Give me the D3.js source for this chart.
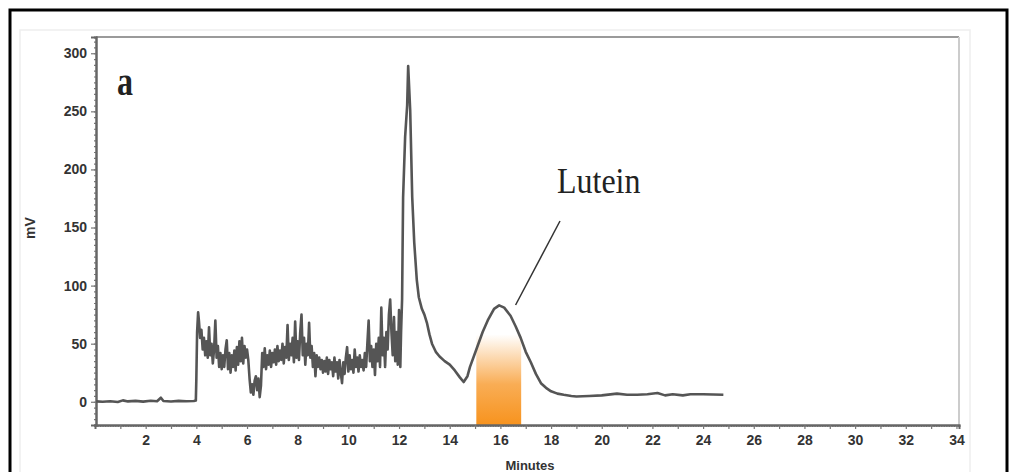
<!DOCTYPE html>
<html>
<head>
<meta charset="utf-8">
<script src="https://cdn.jsdelivr.net/npm/d3@7"></script>
<style>
  body { margin: 0; background: #fff; }
  .tick-label { font-family: 'Liberation Sans', Arial, sans-serif; font-weight: bold; font-size: 14px; fill: #333; }
</style>
</head>
<body>
<div id="chart"></div>
<script>
// minutes / mV pairs
var baselinePts = [[0.05, 0.3], [0.3, 0], [0.6, 0.4], [0.9, -0.2], [1.1, 1.2], [1.3, 0.3], [1.6, 0.8], [1.9, 0.1], [2.2, 0.9], [2.45, 0.4], [2.6, 3.5], [2.7, 0.6], [3.0, 0.2], [3.3, 0.8], [3.6, 0.4], [3.9, 0.6], [3.98, 1]]

var noisePts = [
  [4.0, 20], [4.03, 60], [4.07, 77], [4.1, 70], [4.15, 55], [4.2, 62], [4.25, 45], [4.3, 55], [4.35, 40], [4.4, 52],
  [4.45, 38], [4.5, 64], [4.55, 40], [4.6, 50], [4.65, 33], [4.7, 45], [4.75, 70], [4.8, 38], [4.85, 48], [4.9, 30],
  [4.95, 42], [5.0, 28], [5.05, 40], [5.1, 30], [5.15, 45], [5.2, 53], [5.25, 28], [5.3, 42], [5.35, 25], [5.4, 40],
  [5.45, 30], [5.5, 44], [5.55, 27], [5.6, 47], [5.65, 32], [5.7, 52], [5.75, 35], [5.8, 55], [5.85, 33], [5.9, 48],
  [5.95, 38], [6.0, 45], [6.05, 36], [6.1, 20], [6.15, 8], [6.2, 15], [6.25, 6], [6.3, 18], [6.35, 22], [6.4, 10],
  [6.45, 20], [6.5, 4], [6.55, 14], [6.6, 42], [6.65, 30], [6.7, 46], [6.75, 28], [6.8, 40], [6.85, 32], [6.9, 44],
  [6.95, 30], [7.0, 42], [7.05, 34], [7.1, 45], [7.15, 32], [7.2, 48], [7.25, 35], [7.3, 44], [7.35, 36], [7.4, 50],
  [7.45, 33], [7.5, 47], [7.55, 38], [7.6, 66], [7.65, 36], [7.7, 50], [7.75, 40], [7.8, 55], [7.85, 34], [7.9, 69],
  [7.95, 38], [8.0, 52], [8.05, 36], [8.1, 60], [8.15, 75], [8.2, 40], [8.25, 55], [8.3, 32], [8.35, 50], [8.4, 40],
  [8.45, 68], [8.5, 38], [8.55, 48], [8.6, 30], [8.65, 42], [8.7, 22], [8.75, 40], [8.8, 30], [8.85, 38], [8.9, 28],
  [8.95, 36], [9.0, 25], [9.05, 35], [9.1, 26], [9.15, 38], [9.2, 24], [9.25, 36], [9.3, 28], [9.35, 34], [9.4, 22],
  [9.45, 38], [9.5, 26], [9.55, 34], [9.6, 20], [9.65, 36], [9.7, 25], [9.75, 16], [9.8, 34], [9.85, 24], [9.9, 38],
  [9.95, 47], [10.0, 26], [10.05, 40], [10.1, 28], [10.15, 36], [10.2, 25], [10.25, 45], [10.3, 30], [10.35, 38], [10.4, 26],
  [10.45, 40], [10.5, 30], [10.55, 36], [10.6, 27], [10.65, 42], [10.7, 30], [10.75, 50], [10.8, 70], [10.85, 35], [10.9, 48],
  [10.95, 30], [11.0, 45], [11.05, 23], [11.1, 50], [11.15, 35], [11.2, 55], [11.25, 30], [11.3, 81], [11.35, 40], [11.4, 55],
  [11.45, 30], [11.5, 60], [11.55, 45], [11.6, 75], [11.65, 88], [11.7, 60], [11.75, 40], [11.8, 73], [11.85, 35], [11.9, 60],
  [11.95, 32], [12.0, 79], [12.05, 30], [12.08, 60]
]

var mainPeakPts = [[12.12, 88], [12.16, 176], [12.24, 228], [12.32, 255], [12.36, 289], [12.4, 270], [12.44, 251], [12.52, 176], [12.6, 137], [12.7, 105], [12.78, 90], [12.9, 80], [13.0, 75], [13.1, 68], [13.2, 58], [13.3, 50], [13.45, 43], [13.6, 39], [13.8, 35], [14.0, 32], [14.2, 27], [14.4, 21], [14.55, 17], [14.7, 22]]

var luteinPts = [[14.8, 30], [15.05, 45], [15.3, 60], [15.5, 70], [15.75, 80], [15.95, 83], [16.15, 81], [16.4, 74], [16.6, 65], [16.8, 55], [17.0, 43], [17.2, 34], [17.4, 24], [17.6, 16], [17.8, 12], [18.0, 9], [18.25, 7], [18.5, 6], [18.8, 5], [19.0, 4.5], [19.5, 5], [20.0, 5.5], [20.6, 7], [21.0, 6], [21.4, 6], [21.8, 6.5], [22.2, 7.5], [22.5, 5.5], [22.8, 6.5], [23.2, 5.5], [23.5, 6.5], [24.0, 6.5], [24.8, 6]]

var luteinBand = [15.05, 16.82]
var xTickLabels = [2, 4, 6, 8, 10, 12, 14, 16, 18, 20, 22, 24, 26, 28, 30, 32, 34]
var yTickLabels = [0, 50, 100, 150, 200, 250, 300]

var trace = baselinePts.concat(noisePts, mainPeakPts, luteinPts)

var svg = d3.select('#chart')
  .append('svg')
  .attr('width', 1011)
  .attr('height', 472)

const xPositionScale = d3.scaleLinear().domain([0, 34.1]).range([95, 959])
const yPositionScale = d3.scaleLinear().domain([-20, 314]).range([425, 37])

// outer frame and faint panel
svg.append('rect')
  .attr('x', 10).attr('y', 10)
  .attr('width', 997).attr('height', 500)
  .attr('fill', 'none').attr('stroke', '#000').attr('stroke-width', 3)

svg.append('rect')
  .attr('x', 20).attr('y', 30)
  .attr('width', 950).attr('height', 450)
  .attr('fill', 'none').attr('stroke', '#eeeeee').attr('stroke-width', 1.5)

// gradient for lutein band
var grad = svg.append('defs').append('linearGradient')
  .attr('id', 'lutein-grad')
  .attr('x1', 0).attr('y1', 1).attr('x2', 0).attr('y2', 0)
grad.append('stop').attr('offset', '0%').attr('stop-color', '#f7931e')
grad.append('stop').attr('offset', '45%').attr('stop-color', '#f9ad55')
grad.append('stop').attr('offset', '100%').attr('stop-color', '#ffffff')

svg.append('rect')
  .attr('x', xPositionScale(luteinBand[0]))
  .attr('y', yPositionScale(58))
  .attr('width', xPositionScale(luteinBand[1]) - xPositionScale(luteinBand[0]))
  .attr('height', yPositionScale(-20) - yPositionScale(58))
  .attr('fill', 'url(#lutein-grad)')

// plot box top/right
svg.append('line')
  .attr('x1', 96).attr('x2', 959).attr('y1', 37).attr('y2', 37)
  .attr('stroke', '#9a9a9a').attr('stroke-width', 2)
svg.append('line')
  .attr('x1', 959).attr('x2', 959).attr('y1', 37).attr('y2', 425)
  .attr('stroke', '#cccccc').attr('stroke-width', 2)

// x axis
var xMinor = d3.range(0.1, 34.05, 0.1)
var xAxisMinor = d3.axisBottom(xPositionScale).tickValues(xMinor).tickSize(2).tickFormat('')
svg.append('g')
  .attr('class', 'axis x-minor')
  .attr('transform', 'translate(0,' + 425 + ')')
  .call(xAxisMinor)

var xAxis = d3.axisBottom(xPositionScale).tickValues(d3.range(1, 35)).tickSize(4)
  .tickFormat(d => (xTickLabels.indexOf(d) >= 0 ? d : ''))
svg.append('g')
  .attr('class', 'axis x-axis')
  .attr('transform', 'translate(0,' + 425 + ')')
  .call(xAxis)

// y axis
var yAxisMinor = d3.axisLeft(yPositionScale).tickValues(d3.range(-15, 314, 5)).tickSize(2).tickFormat('')
svg.append('g')
  .attr('class', 'axis y-minor')
  .attr('transform', 'translate(96,0)')
  .call(yAxisMinor)

var yAxis = d3.axisLeft(yPositionScale).tickValues(yTickLabels).tickSize(5)
svg.append('g')
  .attr('class', 'axis y-axis')
  .attr('transform', 'translate(96,0)')
  .call(yAxis)

svg.selectAll('.axis .domain').attr('stroke', '#666').attr('stroke-width', 2)
svg.selectAll('.axis .tick line').attr('stroke', '#777').attr('stroke-width', 1.2)
svg.selectAll('.x-axis .tick text').attr('class', 'tick-label').attr('dy', '0.9em')
svg.selectAll('.y-axis .tick text').attr('class', 'tick-label').attr('dx', '-1px')
svg.selectAll('.axis').attr('font-size', null).attr('font-family', null)

// trace
var line = d3.line()
  .x(d => xPositionScale(d[0]))
  .y(d => yPositionScale(d[1]))

svg.append('path')
  .datum(trace)
  .attr('d', line)
  .attr('fill', 'none')
  .attr('stroke', '#555')
  .attr('stroke-width', 2.6)
  .attr('stroke-linejoin', 'round')

// labels
svg.append('text')
  .text('mV')
  .attr('transform', 'translate(35,228) rotate(-90)')
  .attr('text-anchor', 'middle')
  .attr('font-family', "'Liberation Sans', Arial, sans-serif")
  .attr('font-weight', 'bold')
  .attr('font-size', 14)
  .attr('fill', '#333')

svg.append('text')
  .text('Minutes')
  .attr('x', 530)
  .attr('y', 470)
  .attr('text-anchor', 'middle')
  .attr('font-family', "'Liberation Sans', Arial, sans-serif")
  .attr('font-weight', 'bold')
  .attr('font-size', 13)
  .attr('fill', '#333')

svg.append('text')
  .text('a')
  .attr('transform', 'translate(117,95) scale(0.8,1)')
  .attr('font-family', "'Liberation Serif', 'Times New Roman', serif")
  .attr('font-weight', 'bold')
  .attr('font-size', 40)
  .attr('fill', '#222')

svg.append('text')
  .text('Lutein')
  .attr('transform', 'translate(557,193) scale(1,1.15)')
  .attr('font-family', "'Liberation Serif', 'Times New Roman', serif")
  .attr('font-size', 32)
  .attr('fill', '#222')

// pointer line to the lutein peak
svg.append('line')
  .attr('x1', 560).attr('y1', 221)
  .attr('x2', xPositionScale(16.6)).attr('y2', 305)
  .attr('stroke', '#333').attr('stroke-width', 1.5)
</script>
</body>
</html>
